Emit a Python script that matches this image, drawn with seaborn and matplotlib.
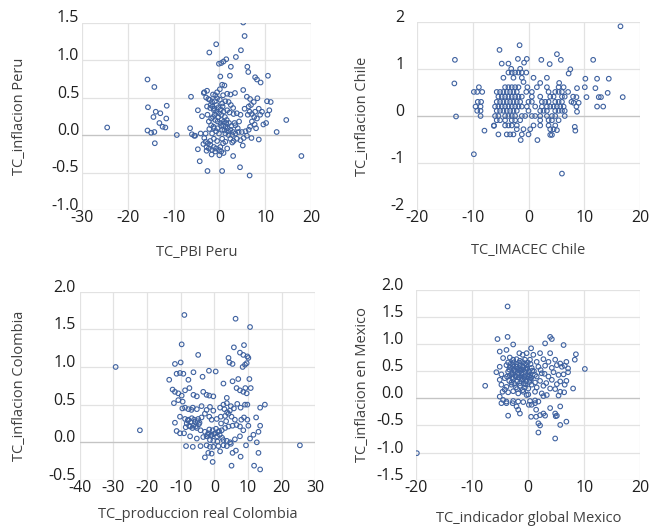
import matplotlib
matplotlib.use("Agg")
import matplotlib.pyplot as plt
import matplotlib.transforms as mtransforms
import seaborn as sns

# ---------------- data ----------------
peru_x = [-24.5, -15.7, -14.2, -15.6, -11.5, -13.9, -12.9, -14.4, -11.6, -13.1, -12.4, -11.8, -15.7, -14.9, -14.2, -14.1, -9.3,
          5.2, 5.5, -0.7, -2.2, 4.7, 3.6, -0.1, 0.4, 0.9, 1.5, 2.5, 6.1, 6.3, 0.2, 2.3, 7.8, 8.2, 9.0, 10.6, 5.2, -6.2, 3.4,
          -6.4, -5.5, -4.7, -4.3, -2.6, 0.6, 4.5, 6.6, 17.9, 3.0, -6.0, -5.3, -4.7, -3.8, -3.4,
          -3.3, -2.7, -1.4, -0.9, -0.5, 0.1, 0.6, 1.1, 0.8, 1.7, 2.4, -2.1, -1.6, -1.0, -0.5, 0.1, 0.6, 1.3, 2.0, 2.5, 3.0,
          -2.7, -2.0, -1.2, -0.7, -0.1, 0.4, 0.9, 1.7, 2.2, 3.1, 3.8, 4.6, -1.4, -0.9, -0.4, 0.2, 0.8, 1.3, 1.8, 2.4, 3.0,
          3.5, 4.0, -2.3, -1.8, -1.2, -0.7, -0.1, 0.6, 1.3, 2.0, 2.8, 3.5, 4.2, 4.9, 5.7, 6.4, 6.7, 7.1, 6.2, 6.6, 7.1, 7.6,
          8.2, 8.9, 9.3, 8.6, 7.8, 6.4, 6.0, 6.7, 7.5, 8.3, 10.4, 11.2, 10.9, 10.5, 10.2, 14.6, 12.5, 8.6, 7.0, 6.0, 5.3,
          5.1, 4.6, -3.0, -2.5, -2.0, -1.2, -0.7, -0.1, 0.4, 0.9, -2.3, -1.6, -0.9, 0.2, 0.8, 1.3, -2.8, -2.0, -1.2, -0.5,
          1.7, 2.4, 3.1, 3.8, 0.6, -4.1, -3.0, -1.6, -3.3,
          -2.9, -2.4, -1.9, -1.5, -1.1, -0.6, -0.2, 0.3, 0.7, 1.2, 1.6, 2.1, -2.6, -1.8, -1.0, -0.3, 0.5, 1.0, 1.5, 2.6,
          -2.2, -1.3, -0.4, 0.4, 1.1, 1.9, -3.5, -2.8, -1.7, 0.0, 2.8, 3.3, 4.3, 5.5, 6.9, 7.7, 8.0, 9.6]
peru_y = [0.10, 0.74, 0.64, 0.37, 0.39, 0.31, 0.29, 0.24, 0.22, 0.16, 0.11, 0.10, 0.06, 0.03, 0.04, -0.11, 0.00,
          1.50, 1.32, 1.21, 1.10, 1.13, 1.04, 0.95, 0.96, 0.98, 1.01, 0.91, 0.91, 0.84, 0.78, 0.79, 0.77, 0.74, 0.70, 0.79, 0.60, 0.51, 0.56,
          0.09, -0.01, -0.19, -0.35, -0.48, -0.48, -0.43, -0.54, -0.28, -0.28, 0.01, -0.01, 0.33, 0.25, 0.56,
          0.57, 0.59, 0.54, 0.53, 0.57, 0.61, 0.67, 0.66, 0.53, 0.55, 0.54, 0.47, 0.44, 0.45, 0.49, 0.47, 0.42, 0.45, 0.44, 0.40, 0.36,
          0.38, 0.36, 0.33, 0.31, 0.29, 0.27, 0.31, 0.33, 0.30, 0.28, 0.29, 0.27, 0.24, 0.20, 0.18, 0.16, 0.13, 0.11, 0.09, 0.07, 0.04,
          0.13, 0.09, 0.18, 0.13, 0.09, 0.05, 0.02, 0.07, 0.02, 0.00, 0.00, 0.02, 0.04, 0.04, 0.05, 0.07, 0.11, 0.18, 0.27, 0.31, 0.28, 0.24,
          0.22, 0.27, 0.31, 0.35, 0.31, 0.38, 0.51, 0.48, 0.44, 0.49, 0.45, 0.44, 0.33, 0.27, 0.16, 0.20, 0.04, -0.06, -0.04, -0.01, -0.04,
          -0.14, -0.07, -0.09, -0.11, -0.13, -0.16, -0.18, -0.20, -0.22, -0.24, -0.18, -0.20, -0.22, -0.16, -0.11, -0.09, -0.16, -0.08, -0.05, -0.08,
          -0.18, -0.05, -0.08, -0.05, -0.05, 0.02, 0.02, 0.02, -0.04,
          0.50, 0.48, 0.40, 0.38, 0.35, 0.40, 0.37, 0.34, 0.38, 0.24, 0.20, 0.16, 0.27, 0.22, 0.27, 0.24, 0.20, 0.18, 0.16, 0.12,
          0.08, 0.11, 0.09, 0.12, 0.06, 0.05, -0.12, -0.21, -0.26, -0.27, -0.10, 0.16, 0.18, 0.35, 0.40, 0.14, 0.09, 0.14]

chile_x = [16.5, -13.2, -13.3, -13.0, 6.0, 16.9, 14.4, 14.2, 11.6, 12.0, 12.3, 12.6, 13.0, 12.3, 13.4,
           -9.8, -5.2, -1.6, 5.1, 5.8, 2.3, 3.8, 7.5, 7.2, 10.2, 10.4, 8.7, 8.6, 9.0, 8.1, 8.7, 8.3, 8.4, -7.9, -6.2,
           -1.4, 1.6, 3.9, 4.2, 5.1,
           -1.9, -0.3, -4.8, -3.6, -0.8, -3.1, -1.5,
           -3.6, -3.0, -2.4, -1.8, -1.2, -0.4,
           -4.5, -2.7, -1.2, 0.9, 3.3,
           -0.9, 2.1, 5.5,
           -8.9, -4.2, -3.6, -3.0, -2.4, -1.8, -0.2, 1.5, 3.3, 5.4, 6.3, 10.1,
           -9.8, -9.2, -8.3, -5.7, -5.1, -4.5, -3.9, -3.3, -2.7, -2.1, -0.4, 0.6, 3.6, 4.8, 5.4, 6.0, 7.1,
           -5.4, -4.8, -4.2, -3.6, -3.0, -2.4, -1.8, -1.2, 0.6, 2.1, 3.9, 4.5, 6.0, 6.5, 8.0,
           -9.1, -8.5, -5.7, -5.1, -4.5, -3.9, -3.3, -2.7, -2.1, -1.5, 0.0, 0.6, 2.4, 3.0, 3.6, 4.8, 5.4, 6.0, 7.7,
           -9.5, -8.6, -6.0, -5.4, -4.8, -4.2, -3.6, -3.0, -2.4, -1.8, -1.2, -0.3, 1.2, 2.4, 3.3, 3.9, 4.5, 5.1, 5.7, 6.3, 8.6,
           -9.2, -8.6, -5.7, -5.1, -4.5, -3.9, -3.3, -2.7, -2.1, 0.0, 2.1, 2.7, 3.3, 4.8, 5.4, 6.0, 6.5,
           -8.6, -6.0, -5.4, -4.2, -3.6, -3.0, -2.4, -1.2, -0.6, 0.6, 1.2, 2.1, 3.3, 4.2, 4.8, 6.5,
           -5.7, -5.1, -4.2, -3.0, -2.4, -1.5, 2.1, 3.6, 4.2, 5.4,
           -6.2, -4.2, -3.6, -3.0, -2.1, 0.9, 2.1, 3.6, 4.8,
           -2.1, -0.9, 0.3, 3.9, 4.5,
           -5.4, -3.9, -3.3, -2.7, -1.2, 0.0]
chile_y = [1.90, 1.19, 0.69, -0.01, -1.22, 0.40, 0.79, 0.49, 1.19, 0.59, 0.79, 0.40, 0.40, 0.20, 0.20,
           -0.81, 1.40, 1.50, 1.31, 1.19, 1.19, 1.10, 0.99, 0.90, 0.79, 0.40, 0.59, 0.40, 0.28, 0.28, 0.09, -0.23, -0.31, -0.31, -0.21,
           -0.51, -0.51, -0.40, -0.40, -0.30,
           1.21, 1.21, 1.11, 1.11, 1.13, 1.00, 1.00,
           0.92, 0.92, 0.92, 0.92, 0.92, 0.92,
           0.81, 0.81, 0.81, 0.81, 0.81,
           0.72, 0.70, 0.70,
           0.61, 0.61, 0.61, 0.61, 0.61, 0.61, 0.61, 0.61, 0.61, 0.61, 0.61, 0.61,
           0.51, 0.51, 0.51, 0.51, 0.51, 0.51, 0.51, 0.51, 0.51, 0.51, 0.51, 0.51, 0.51, 0.51, 0.51, 0.51, 0.51,
           0.41, 0.41, 0.41, 0.41, 0.41, 0.41, 0.41, 0.41, 0.41, 0.41, 0.41, 0.41, 0.41, 0.41, 0.41,
           0.30, 0.30, 0.30, 0.30, 0.30, 0.30, 0.30, 0.30, 0.30, 0.30, 0.30, 0.30, 0.30, 0.30, 0.30, 0.30, 0.30, 0.30, 0.30,
           0.20, 0.20, 0.20, 0.20, 0.20, 0.20, 0.20, 0.20, 0.20, 0.20, 0.20, 0.20, 0.20, 0.20, 0.20, 0.20, 0.20, 0.20, 0.20, 0.20, 0.20,
           0.11, 0.11, 0.11, 0.11, 0.11, 0.11, 0.11, 0.11, 0.11, 0.11, 0.11, 0.11, 0.11, 0.11, 0.11, 0.11, 0.11,
           0.00, 0.00, 0.00, 0.00, 0.00, 0.00, 0.00, 0.00, 0.00, 0.00, 0.00, 0.00, 0.00, 0.00, 0.00, 0.00,
           -0.09, -0.09, -0.09, -0.09, -0.09, -0.09, -0.09, -0.09, -0.09, -0.09,
           -0.20, -0.20, -0.20, -0.20, -0.20, -0.20, -0.20, -0.20, -0.20,
           -0.28, -0.28, -0.28, -0.28, -0.28,
           -0.39, -0.39, -0.39, -0.39, -0.39, -0.39]

colombia_x = [-29.3, -22.1, 25.4, -8.9, 6.3,
              10.6, -9.7, -4.8, -11.7, -10.0, 5.8, 8.8, 7.6, 8.6, 9.8, 10.1, 4.2, 4.5, 5.4, 8.4, 9.1, 9.6,
              -13.4, -11.2, -10.2, -9.2, -7.7, -6.2, -3.5, -1.6, 0.4, 2.7, 5.4, 7.1, 10.4,
              -12.4, -11.7, -10.7, -9.7, -8.7, -7.4, -6.2, -5.2, -3.3, -2.3, -1.5, -0.3, 3.7, 6.6, 7.6, 8.6, 9.6, 9.1, 9.8,
              -12.0, -10.7, -9.4, -8.7, -7.7, -6.4, -5.2, -3.8, -2.3, -1.3, -0.3, 1.7, 2.7, 3.7, 4.9, 5.8, 6.8, 7.8, 13.6, 15.0,
              -11.7, -10.2, -8.7, -7.7, -6.7, -5.7, -4.8, -3.8, -2.8, -1.5, -0.8, 0.7, 1.9, 3.2, 4.2, 5.1, 6.1, 8.8, 9.8, 12.4, 13.6, 10.1,
              -8.2, -7.2, -6.2, -5.2, -4.1, -2.8, -1.8, -0.8, 0.2, 1.2, 2.2, 3.2, 4.2, 5.4, 6.6, 7.6, 8.6,
              -11.2, -10.2, -9.0, -7.2, -5.2, -3.3, -2.3, -1.3, -0.3, 0.9, 2.7, 3.7, 4.7, 6.1, 7.6, 10.6, 13.1, 11.6,
              -8.4, -6.4, -4.1, -2.3, -1.3, -0.3, 1.2, 2.7, 3.7, 4.9, 9.4, 12.6, 13.1, 1.7, -1.8, -0.8, -2.8, -0.5, 5.1, 5.4,
              6.4, 7.8, 11.8, 13.6,
              -7.9, -7.0, -6.0, -5.0, -4.4, -8.5, -7.5, -6.5, -5.5, -4.6, -1.9, -1.0, -0.1, 0.8, 1.6, -1.5, -0.5, 0.5, 1.4, 2.3,
              3.0, 3.8, 4.6, -9.5, -6.8, 2.0, 3.5, 9.2, 8.0, 10.8]
colombia_y = [1.00, 0.16, -0.04, 1.69, 1.64,
              1.53, 1.30, 1.16, 1.04, 1.06, 1.26, 1.29, 1.19, 1.16, 1.14, 1.12, 1.12, 1.06, 1.04, 1.00, 1.03, 1.05,
              0.83, 0.91, 0.92, 0.91, 0.83, 0.93, 0.87, 0.95, 0.94, 0.78, 0.81, 0.84, 0.84,
              0.70, 0.67, 0.65, 0.62, 0.69, 0.72, 0.63, 0.61, 0.67, 0.63, 0.62, 0.61, 0.59, 0.72, 0.69, 0.67, 0.65, 0.50, 0.50,
              0.52, 0.56, 0.54, 0.46, 0.44, 0.46, 0.44, 0.48, 0.43, 0.47, 0.42, 0.46, 0.50, 0.52, 0.48, 0.45, 0.51, 0.46, 0.46, 0.50,
              0.26, 0.34, 0.31, 0.30, 0.32, 0.27, 0.31, 0.33, 0.38, 0.34, 0.30, 0.31, 0.34, 0.35, 0.38, 0.34, 0.30, 0.33, 0.30, 0.33, 0.22, 0.22,
              0.25, 0.21, 0.22, 0.19, 0.16, 0.14, 0.12, 0.10, 0.12, 0.14, 0.16, 0.19, 0.21, 0.22, 0.23, 0.21, 0.16,
              0.15, 0.12, 0.12, 0.08, 0.05, 0.07, 0.08, 0.03, 0.02, 0.01, 0.03, 0.02, 0.00, 0.04, 0.08, 0.05, 0.14, 0.10,
              -0.05, -0.06, -0.05, -0.04, -0.06, -0.06, -0.05, -0.04, -0.05, -0.02, -0.04, 0.00, -0.14, -0.12, -0.14, -0.15, -0.20, -0.26, -0.31, -0.14,
              -0.11, -0.19, -0.31, -0.36,
              0.29, 0.27, 0.30, 0.28, 0.26, 0.20, 0.22, 0.19, 0.21, 0.24, 0.10, 0.09, 0.11, 0.08, 0.10, 0.17, 0.16, 0.18, 0.15, 0.06,
              0.44, 0.40, 0.42, 0.45, 0.43, 0.25, 0.28, 0.72, 0.30, 0.72]

mexico_x = [-19.9, -3.7, 5.4, 6.4, 1.4, 3.0, 4.9, 0.5, 2.7, 1.2, 0.1, -2.1, -2.8, -7.7,
            -5.5, -3.7, -2.7, 3.0, 3.9, 4.2, 6.3, 0.5,
            -5.1, -3.9, -1.6, -1.0, -0.3, 0.9, 2.1, 3.9, 8.5, 8.3,
            -4.5, -3.3, -2.7, -2.1, -1.5, -0.6, 0.3, 1.5, 2.7, 3.6, 4.8, 5.7, 6.8,
            -5.1, -3.9, -3.3, -2.7, -2.1, -1.5, -0.9, -0.3, 0.6, 1.8, 3.0, 4.2, 5.1, 6.0, 6.5, 7.1, 10.1,
            -5.7, -4.8, -3.6, -3.0, -2.4, -1.8, -1.2, -0.6, 0.0, 1.2, 2.4, 3.6, 4.5, 5.4, 6.3, 7.1, 6.8,
            -5.1, -4.2, -3.4, -2.7, -2.0, -1.2, -0.4, 0.3, 1.2, 2.1, 3.2, 4.2, 5.1, 5.7, 6.5, 8.0,
            -4.8, -3.9, -3.0, -2.2, -1.5, -0.6, 0.6, 1.5, 2.7, 3.9, 4.8,
            -4.6, -3.6, -2.7, -1.8, -0.9, 0.0, 1.2, 2.4, 3.3, 5.7,
            -5.1, -4.5, -3.9, -2.7, -1.8, -0.9, 0.3, 1.2, 1.8, 0.6, 1.4, 2.7, 3.9, 2.1, 4.8, 5.1, 5.7,
            5.7, 6.8, 1.8, 2.1, 4.8, 1.8, -1.5, -1.8, -3.6, -3.9, -4.8, -0.3,
            -2.5, -1.9, -1.3, -0.7, -0.2, 0.4, -2.2, -1.6, -1.0, -0.4, 0.2, -2.8, -1.4, -0.8, 0.1,
            -3.6, -3.1, -2.6, -2.1, -1.6, -1.1, -0.6, -0.1, 0.4, -3.4, -2.9, -2.4, -1.9, -1.4, -0.9, -0.4, 0.1, 0.7,
            -3.8, -3.3, -2.8, -2.3, -1.7, -1.2, -0.7, -0.2, 0.3, -3.0, -2.5, -1.5, -0.5, 0.5, 1.0, 1.5, 2.2, 2.9,
            -4.2, -2.0, -1.0, 0.0]
mexico_y = [-1.01, 1.69, 0.05, 0.11, -0.34, -0.32, -0.33, -0.34, 0.04, -0.04, -0.12, -0.15, -0.09, 0.23,
            1.09, 1.13, 0.99, 1.01, 1.13, 1.09, 0.98, 0.92,
            0.86, 0.89, 0.83, 0.80, 0.83, 0.80, 0.83, 0.83, 0.81, 0.71,
            0.74, 0.75, 0.71, 0.72, 0.69, 0.71, 0.71, 0.67, 0.72, 0.67, 0.71, 0.64, 0.67,
            0.58, 0.61, 0.58, 0.61, 0.58, 0.60, 0.58, 0.61, 0.56, 0.58, 0.60, 0.56, 0.61, 0.58, 0.60, 0.55, 0.54,
            0.48, 0.44, 0.49, 0.44, 0.48, 0.43, 0.46, 0.49, 0.44, 0.43, 0.46, 0.40, 0.48, 0.43, 0.44, 0.48, 0.32,
            0.34, 0.37, 0.32, 0.36, 0.31, 0.34, 0.31, 0.34, 0.29, 0.32, 0.28, 0.34, 0.26, 0.31, 0.25, 0.18,
            0.25, 0.21, 0.25, 0.20, 0.23, 0.20, 0.25, 0.20, 0.23, 0.18, 0.17,
            0.12, 0.11, 0.13, 0.09, 0.12, 0.07, 0.12, 0.09, 0.06, 0.12,
            0.03, -0.03, -0.06, -0.05, -0.06, -0.07, -0.05, -0.09, -0.06, -0.12, -0.21, -0.28, -0.18, -0.31, -0.28, -0.32, -0.15,
            -0.49, -0.43, -0.46, -0.50, -0.74, -0.63, -0.28, -0.21, -0.32, -0.09, -0.09, 0.06,
            0.52, 0.47, 0.53, 0.40, 0.55, 0.38, 0.39, 0.55, 0.36, 0.52, 0.30, 0.45, 0.50, 0.27, 0.40,
            0.66, 0.64, 0.66, 0.63, 0.65, 0.67, 0.64, 0.66, 0.63, 0.53, 0.55, 0.52, 0.54, 0.51, 0.53, 0.55, 0.49, 0.51,
            0.40, 0.42, 0.39, 0.41, 0.38, 0.40, 0.37, 0.41, 0.42, 0.29, 0.27, 0.28, 0.26, 0.37, 0.50, 0.40, 0.52, 0.45,
            0.16, 0.17, 0.15, 0.18]

panels = [
    dict(x=peru_x, y=peru_y, xlabel="TC_PBI Peru", ylabel="TC_inflacion Peru",
         xticks=[-30, -20, -10, 0, 10, 20], yticks=[-1.0, -0.5, 0.0, 0.5, 1.0, 1.5], yfmt="{:.1f}",
         rect=[82, 22.5, 311, 210], ypad=2, xlab_y=252, ylab_x=20),
    dict(x=chile_x, y=chile_y, xlabel="TC_IMACEC Chile", ylabel="TC_inflacion Chile",
         xticks=[-20, -10, 0, 10, 20], yticks=[-2, -1, 0, 1, 2], yfmt="{:.0f}",
         rect=[417, 21.6, 640, 210.4], ypad=9, xlab_y=250, ylab_x=363),
    dict(x=colombia_x, y=colombia_y, xlabel="TC_produccion real Colombia", ylabel="TC_inflacion Colombia",
         xticks=[-40, -30, -20, -10, 0, 10, 20, 30], yticks=[-0.5, 0.0, 0.5, 1.0, 1.5, 2.0], yfmt="{:.1f}",
         rect=[79.6, 291.6, 315.4, 480], ypad=3, xlab_y=515, ylab_x=20),
    dict(x=mexico_x, y=mexico_y, xlabel="TC_indicador global Mexico", ylabel="TC_inflacion en Mexico",
         xticks=[-20, -10, 0, 10, 20], yticks=[-1.5, -1.0, -0.5, 0.0, 0.5, 1.0, 1.5, 2.0], yfmt="{:.1f}",
         rect=[416.3, 289.6, 640.3, 479.8], ypad=9, xlab_y=518, ylab_x=362),
]

# ---------------- style ----------------
sns.set_style("white")
plt.rcParams["font.family"] = ["Open Sans", "DejaVu Sans"]
plt.rcParams["axes.unicode_minus"] = False

W, H = 651, 527
fig = plt.figure(figsize=(W / 100, H / 100), dpi=100)
text_col = "#1f1f1f"
label_col = "#404040"
mark_col = "#3f62a0"

for p in panels:
    l, t, r, b = p["rect"]
    ax = fig.add_axes([l / W, 1 - b / H, (r - l) / W, (b - t) / H])
    sns.scatterplot(x=p["x"], y=p["y"], ax=ax, s=11, marker="o",
                    color=mark_col, edgecolor=mark_col, linewidth=0.8, zorder=3)
    for coll in ax.collections:
        coll.set_facecolor("none")
    ax.set_xlim(p["xticks"][0], p["xticks"][-1])
    ax.set_ylim(p["yticks"][0], p["yticks"][-1])
    ax.set_xticks(p["xticks"])
    ax.set_yticks(p["yticks"])
    ax.set_xticklabels([f"{v:d}" for v in p["xticks"]])
    ax.set_yticklabels([p["yfmt"].format(v) for v in p["yticks"]])
    for s in ax.spines.values():
        s.set_visible(False)
    ax.grid(True, color="#e2e2e2", linewidth=0.9, zorder=0)
    ax.set_axisbelow(True)
    ax.axhline(0, color="#c4c4c4", linewidth=0.9, zorder=1)
    ax.tick_params(axis="both", length=0, labelsize=11.5, labelcolor=text_col)
    ax.tick_params(axis="x", pad=0)
    ax.tick_params(axis="y", pad=p["ypad"])
    off = mtransforms.ScaledTranslation(0, 6 / 100, fig.dpi_scale_trans)
    for lbl in ax.get_yticklabels():
        lbl.set_transform(lbl.get_transform() + off)
    ax.set_xlabel(p["xlabel"], fontsize=10.5, color=label_col)
    ax.set_ylabel(p["ylabel"], fontsize=10.5, color=label_col)
    ax.xaxis.set_label_coords(((l + r) / 2) / W, 1 - p["xlab_y"] / H, transform=fig.transFigure)
    ax.xaxis.label.set_va("center")
    ax.yaxis.set_label_coords(p["ylab_x"] / W, 1 - ((t + b) / 2) / H, transform=fig.transFigure)
    ax.yaxis.label.set_va("center")

fig.savefig("out.png", dpi=100, facecolor="white")
